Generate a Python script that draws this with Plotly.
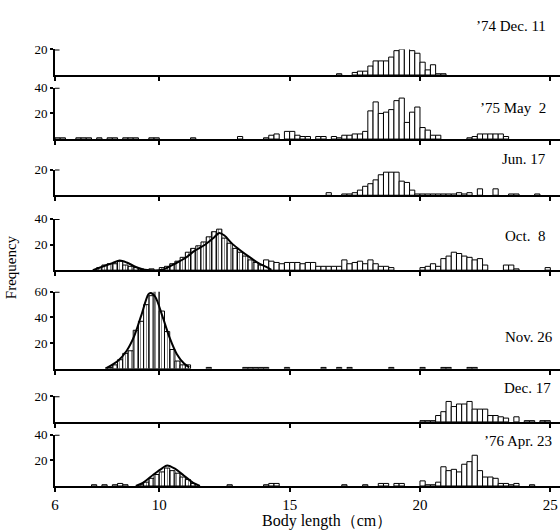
import plotly.graph_objects as go

# ---------------- data (bin centres in cm, 0.2 cm bins; counts) ----------------
BIN_WIDTH = 0.2

dec74_x = [16.9, 17.5, 17.7, 17.9, 18.1, 18.3, 18.5, 18.7, 18.9, 19.1, 19.3, 19.5, 19.7, 19.9, 20.1, 20.3, 20.5, 20.7, 20.9]
dec74_y = [1, 2, 3, 3, 7, 11, 11, 11, 14, 19, 20, 22, 19, 17, 10, 4, 8, 1, 1]

may75_x = [6.1, 6.3, 6.9, 7.1, 7.3, 7.7, 8.1, 8.3, 8.7, 8.9, 9.1, 9.7, 9.9, 11.3, 13.1,
           14.1, 14.3, 14.5, 14.9, 15.1, 15.3, 15.5, 15.7, 16.1, 16.3, 16.7, 16.9,
           17.1, 17.3, 17.5, 17.7, 17.9, 18.1, 18.3, 18.5, 18.7, 18.9, 19.1, 19.3, 19.5,
           19.7, 19.9, 20.1, 20.3, 20.5, 20.7, 21.9, 22.1, 22.3, 22.5, 22.7, 22.9, 23.1, 23.3]
may75_y = [1, 1, 1, 1, 1, 1, 1, 1, 1, 1, 1, 1, 1, 1, 2,
           1, 3, 4, 6, 6, 3, 2, 2, 2, 2, 2, 1,
           3, 3, 4, 4, 6, 22, 29, 20, 21, 23, 30, 32, 13,
           21, 25, 9, 7, 3, 3, 1, 2, 4, 4, 4, 4, 4, 2]

jun75_x = [16.5, 17.1, 17.3, 17.5, 17.7, 17.9, 18.1, 18.3, 18.5, 18.7, 18.9, 19.1, 19.3, 19.5, 19.7,
           19.9, 20.1, 20.3, 20.5, 20.7, 20.9, 21.1, 21.3, 21.5, 21.7, 21.9, 22.3, 22.9, 23.5, 23.7, 24.5]
jun75_y = [2, 1, 1, 2, 4, 7, 9, 12, 16, 18, 18, 18, 11, 10, 4,
           1, 1, 1, 1, 1, 1, 1, 1, 2, 1, 2, 5, 5, 1, 1, 1]

# Oct. 8: bars under the fitted curves (hatched) and the rest
oct75_cohort_x = [7.7, 7.9, 8.1, 8.3, 8.5, 8.7, 8.9, 9.1, 9.3,
                  10.1, 10.3, 10.5, 10.7, 10.9, 11.1, 11.3, 11.5, 11.7, 11.9, 12.1, 12.3,
                  12.5, 12.7, 12.9, 13.1, 13.3, 13.5, 13.7, 13.9]
oct75_cohort_y = [2, 4, 5, 5, 7, 4, 3, 2, 1,
                  2, 3, 5, 7, 10, 14, 17, 19, 22, 26, 30, 32,
                  25, 21, 17, 14, 11, 8, 6, 4]
oct75_x = [9.7, 14.1, 14.3, 14.5, 14.7, 14.9, 15.1, 15.3, 15.5, 15.7, 15.9, 16.1, 16.3, 16.5, 16.7,
           16.9, 17.1, 17.3, 17.5, 17.7, 17.9, 18.1, 18.3, 18.5, 18.7, 18.9,
           20.1, 20.3, 20.5, 20.7, 20.9, 21.1, 21.3, 21.5, 21.7, 21.9, 22.1, 22.3, 22.5,
           23.3, 23.5, 23.7, 24.9]
oct75_y = [1, 8, 7, 6, 5, 6, 6, 6, 5, 6, 6, 3, 3, 3, 3,
           3, 8, 5, 6, 7, 5, 8, 5, 3, 3, 2,
           2, 3, 5, 3, 9, 11, 14, 13, 11, 10, 8, 9, 4,
           4, 4, 1, 2]
oct75_curve_x = [7.45, 7.86, 8.2, 8.48, 8.75, 9.1, 9.44, 10.12, 10.6, 11.0, 11.35, 11.77, 12.1, 12.3,
                 12.5, 12.8, 13.14, 13.48, 13.8, 14.1, 14.3]
oct75_curve_y = [0, 3, 5.5, 7.5, 6, 2.5, 0.3, 0.3, 5, 9.5, 15, 20, 25.5, 29,
                 27, 20.5, 15, 10, 5.5, 2.5, 0.3]

nov75_cohort_x = [8.1, 8.3, 8.5, 8.7, 8.9, 9.1, 9.3, 9.5, 9.7, 9.9, 10.1, 10.3, 10.5, 10.7, 10.9, 11.1]
nov75_cohort_y = [1, 3, 7, 12, 14, 30, 37, 50, 57, 62, 45, 29, 15, 6, 3, 3]
nov75_x = [11.9, 13.3, 13.5, 13.7, 13.9, 14.1, 14.9, 16.3, 16.9, 17.3, 18.9, 20.1, 20.9, 21.1, 21.9, 22.1]
nov75_y = [1, 1, 1, 1, 1, 1, 1, 1, 1, 1, 1, 1, 1, 1, 1, 1]
nov75_curve_x = [7.93, 8.41, 8.75, 9.03, 9.3, 9.58, 9.67, 9.85, 10.12, 10.4, 10.67, 10.95, 11.15]
nov75_curve_y = [0, 6, 14, 25, 41, 58, 59, 56, 41, 24, 11.5, 4, 1]

dec75_x = [20.1, 20.3, 20.5, 20.7, 20.9, 21.1, 21.3, 21.5, 21.7, 21.9, 22.1, 22.3, 22.5, 22.7, 22.9,
           23.1, 23.3, 23.7, 24.1, 24.3, 24.7, 24.9]
dec75_y = [1, 1, 1, 5, 8, 16, 12, 14, 14, 16, 10, 10, 10, 5, 5, 4, 3, 4, 1, 1, 1, 1]

apr76_cohort_x = [9.3, 9.5, 9.7, 9.9, 10.1, 10.3, 10.5, 10.7, 10.9, 11.1, 11.3]
apr76_cohort_y = [1, 3, 6, 9, 11, 14, 12, 10, 7, 5, 2]
apr76_x = [7.5, 7.9, 8.3, 8.5, 8.7, 12.7, 14.1, 14.3, 14.5, 17.1, 17.9, 18.5, 18.7, 19.1, 19.3,
           20.1, 20.3, 20.5, 20.7, 20.9, 21.1, 21.3, 21.5, 21.7, 21.9, 22.1, 22.3, 22.5, 22.7, 22.9,
           23.1, 23.3, 23.5, 23.7, 24.3]
apr76_y = [1, 1, 1, 2, 1, 1, 1, 2, 2, 1, 1, 2, 2, 2, 2,
           4, 1, 1, 3, 15, 12, 13, 11, 17, 19, 24, 12, 7, 7, 6,
           2, 2, 1, 2, 1]
apr76_curve_x = [9.1, 9.37, 9.78, 10.12, 10.3, 10.6, 10.95, 11.3, 11.56]
apr76_curve_y = [0, 2.5, 9, 14, 16, 13.5, 8, 2.5, 0]

x_ticks = [6, 10, 15, 20, 25]

panels = [
    dict(label="’74 Dec. 11", x=dec74_x, y=dec74_y, yticks=[20]),
    dict(label="’75 May  2", x=may75_x, y=may75_y, yticks=[20, 40]),
    dict(label="Jun. 17", x=jun75_x, y=jun75_y, yticks=[20]),
    dict(label="Oct.  8", x=oct75_x, y=oct75_y, hx=oct75_cohort_x, hy=oct75_cohort_y,
         cx=oct75_curve_x, cy=oct75_curve_y, yticks=[20, 40]),
    dict(label="Nov. 26", x=nov75_x, y=nov75_y, hx=nov75_cohort_x, hy=nov75_cohort_y,
         cx=nov75_curve_x, cy=nov75_curve_y, yticks=[20, 40, 60]),
    dict(label="Dec. 17", x=dec75_x, y=dec75_y, yticks=[20]),
    dict(label="’76 Apr. 23", x=apr76_x, y=apr76_y, hx=apr76_cohort_x, hy=apr76_cohort_y,
         cx=apr76_curve_x, cy=apr76_curve_y, yticks=[20, 40]),
]

# ---------------- layout geometry (page pixels; body margin removed below) ----------------
W, H = 560, 531
ML, MR, MT = 55, 0, 0
PX_PER_CM = 26.07
PX_PER_UNIT = 1.3
baselines = [69, 134, 191, 267, 367, 421, 486]
label_y = [19, 102, 154, 232, 335, 387, 440]
label_right = [548, 548, 548, 547, 555, 553, 554]
MB = H - baselines[-1]
PH = H - MT - MB
PW = W - ML - MR

def py(ref_y):
    return (PH - ref_y) / PH

def px(ref_x):
    return (ref_x - ML) / PW

FONT = "Liberation Serif"
fig = go.Figure()
layout = dict(
    width=W, height=H, margin=dict(l=ML, r=MR, t=MT, b=MB),
    paper_bgcolor="white", plot_bgcolor="white", showlegend=False,
    barmode="overlay", font=dict(family=FONT, size=13, color="black"),
)
annotations = []
shapes = []

for i, p in enumerate(panels):
    n = i + 1
    xa = "x" if n == 1 else f"x{n}"
    ya = "y" if n == 1 else f"y{n}"
    ymax = p["yticks"][-1]
    base = baselines[i]
    top = base - PX_PER_UNIT * ymax

    fig.add_trace(go.Bar(
        x=p["x"], y=p["y"], width=BIN_WIDTH, xaxis=xa, yaxis=ya, cliponaxis=False,
        marker=dict(color="white", line=dict(color="black", width=1)),
    ))
    if "hx" in p:
        fig.add_trace(go.Bar(
            x=p["hx"], y=p["hy"], width=BIN_WIDTH, xaxis=xa, yaxis=ya, cliponaxis=False,
            marker=dict(color="white", line=dict(color="black", width=1),
                        pattern=dict(shape="|", fgcolor="black", bgcolor="white",
                                     size=3, solidity=0.3)),
        ))
        fig.add_trace(go.Scatter(
            x=p["cx"], y=p["cy"], mode="lines", xaxis=xa, yaxis=ya, cliponaxis=False,
            line=dict(color="black", width=2, shape="spline", smoothing=0.8),
        ))

    xkey = "xaxis" if n == 1 else f"xaxis{n}"
    ykey = "yaxis" if n == 1 else f"yaxis{n}"
    layout[xkey] = dict(
        domain=[0, 1], anchor=ya, range=[6, 6 + PW / PX_PER_CM],
        showline=True, linecolor="black", linewidth=2, showgrid=False, zeroline=False,
        ticks="outside", tickvals=x_ticks, ticklen=4, tickwidth=1.5, tickcolor="black",
        showticklabels=(n == len(panels)), tickfont=dict(size=15),
    )
    layout[ykey] = dict(
        domain=[py(base), py(top)], anchor=xa, range=[0, ymax],
        showline=True, linecolor="black", linewidth=2, showgrid=False, zeroline=False,
        ticks="outside", tickvals=p["yticks"], ticklen=3, tickwidth=1.5, tickcolor="black",
        tickfont=dict(size=13),
    )
    # serif at the top of each y axis
    shapes.append(dict(type="line", xref="paper", yref=ya, x0=0, x1=0.009,
                       y0=ymax, y1=ymax, line=dict(color="black", width=2)))
    annotations.append(dict(
        text=p["label"], xref="paper", yref="paper",
        x=px(label_right[i]), y=py(label_y[i]),
        xanchor="right", yanchor="middle", showarrow=False, font=dict(size=15),
    ))

annotations.append(dict(text="Frequency", xref="paper", yref="paper",
                        x=px(11), y=py(264), textangle=-90,
                        xanchor="center", yanchor="middle", showarrow=False, font=dict(size=15)))
annotations.append(dict(text="Body length（cm）", xref="paper", yref="paper",
                        x=px(327), y=py(522),
                        xanchor="center", yanchor="middle", showarrow=False, font=dict(size=16)))

layout["annotations"] = annotations
layout["shapes"] = shapes
fig.update_layout(**layout)
fig.write_html("out.html", config={"displayModeBar": False},
               post_script="document.body.style.margin='0';document.body.style.overflow='hidden';")
